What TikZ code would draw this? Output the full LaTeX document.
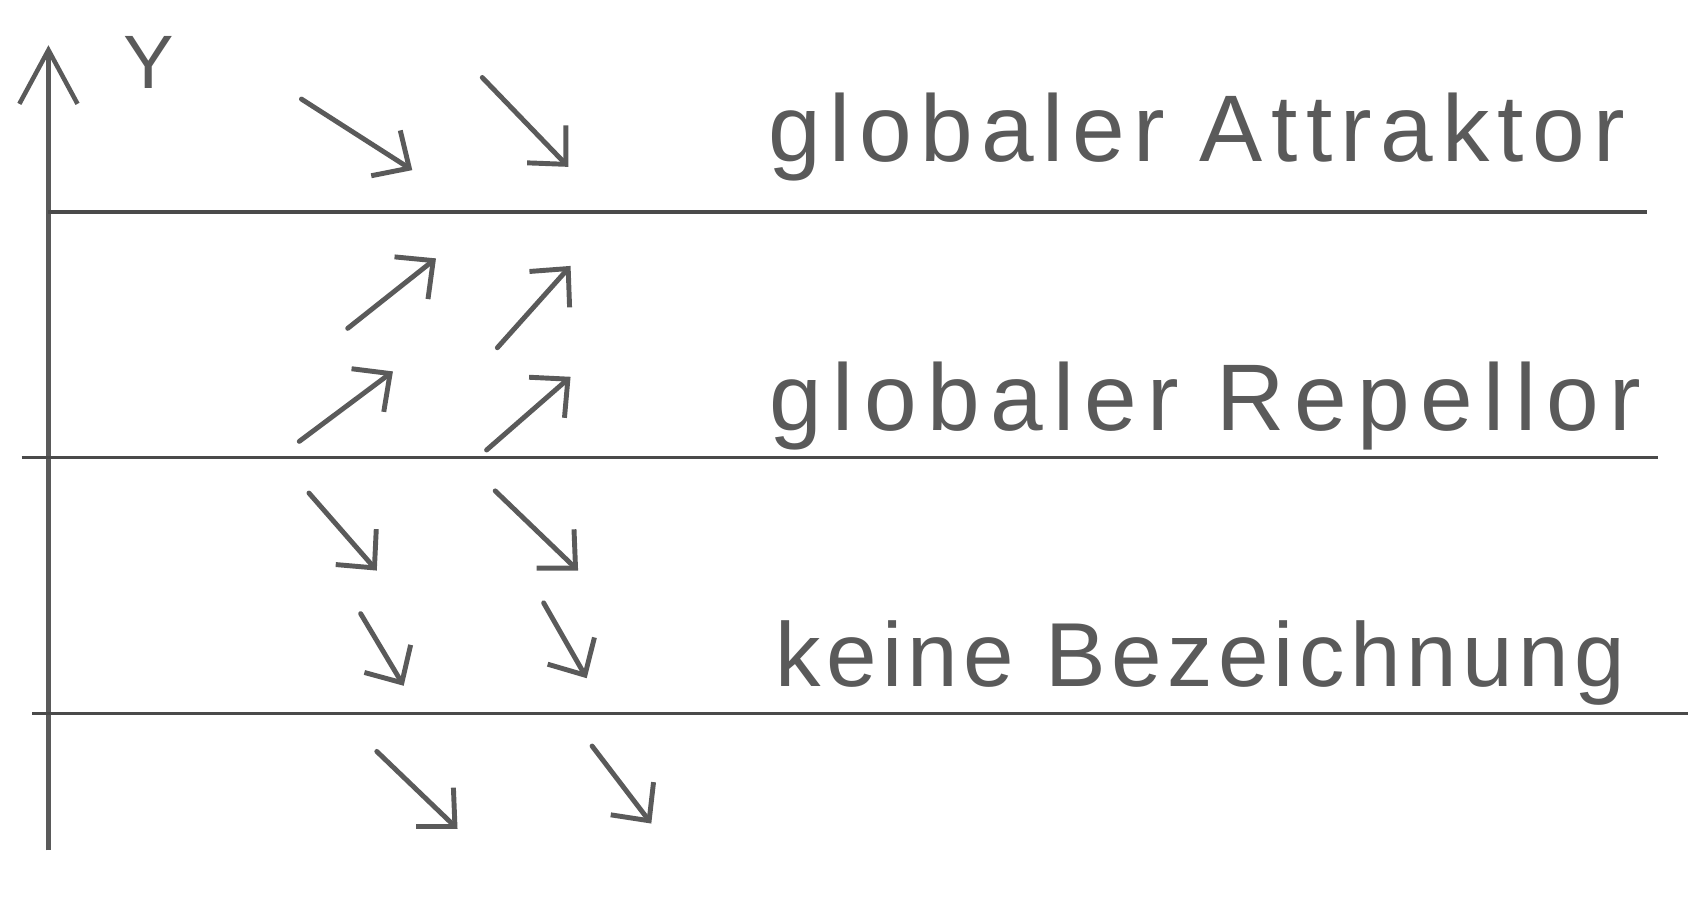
\documentclass[tikz,border=0pt]{standalone}
\usepackage{fontspec}
\setmainfont{Liberation Sans}
\usetikzlibrary{arrows.meta}
\definecolor{pencil}{HTML}{5A5A5A}
\definecolor{pencildark}{HTML}{4A4A4A}
\begin{document}
\begin{tikzpicture}[x=0.01cm, y=-0.01cm,
      axis/.style = {draw=pencil, line width=1.2pt, -{Straight Barb[length=5mm, width=5.4mm]}},
      border/.style = {draw=pencildark, line width=0.9pt},
      flow/.style = {draw=pencil, line width=1.3pt, line cap=round, -{Straight Barb[length=2.6mm, width=5mm]}},
      region/.style = {text=pencil, anchor=base,
        font=\fontsize{25}{30}\selectfont\addfontfeatures{LetterSpace=9}},
      ylabel/.style = {text=pencil, font=\fontsize{20}{24}\selectfont}]
    \useasboundingbox (0,0) rectangle (1568,838);

    % axis
    \coordinate (y0) at (45,790);
    \coordinate (y1) at (45,42);
    \draw[axis] (y0) -- (y1);
    \node[ylabel] (ylab) at (138,58) {Y};

    % separating lines
    \coordinate (a0) at (45,197);  \coordinate (a1) at (1530,197);
    \coordinate (r0) at (20,425);  \coordinate (r1) at (1540,425);
    \coordinate (k0) at (30,663);  \coordinate (k1) at (1568,663);
    \draw[border] (a0) -- (a1);
    \draw[border] (r0) -- (r1);
    \draw[border] (k0) -- (k1);

    % labels
    \node[region] (attr) at (1112,150) {globaler Attraktor};
    \node[region, font=\fontsize{25}{30}\selectfont\addfontfeatures{LetterSpace=11}] (rep) at (1120,400) {globaler Repellor};
    \node[region, font=\fontsize{24}{29}\selectfont\addfontfeatures{LetterSpace=6}] (none) at (1115,638) {keine Bezeichnung};

    % direction field
    \foreach \n/\xa/\ya/\xb/\yb in {
        1/280/92/383/158, 2/448/72/528/155,
        3/323/305/405/240, 4/462/323/530/247,
        5/278/410/365/345, 6/452/418/530/350,
        7/287/458/350/530, 8/460/456/537/530,
        9/335/570/375/637, 10/505/560/545/630,
        11/350/698/425/770, 12/550/693/605/765} {
      \coordinate (s\n) at (\xa,\ya);
      \coordinate (e\n) at (\xb,\yb);
      \draw[flow] (s\n) -- (e\n);
    }
  \end{tikzpicture}
\end{document}
